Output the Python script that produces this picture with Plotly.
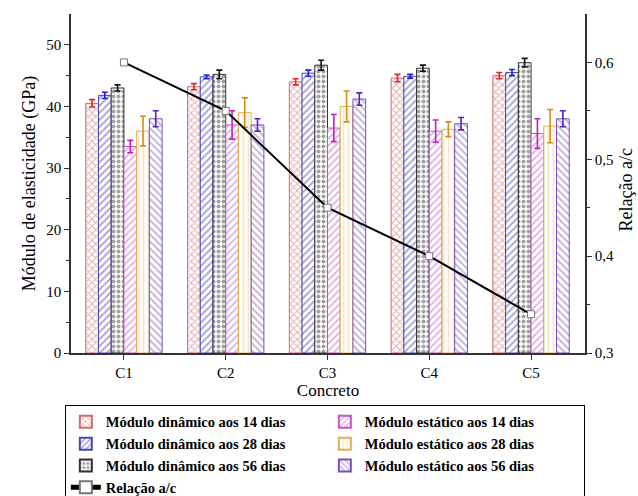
import plotly.graph_objects as go

categorias = ["C1", "C2", "C3", "C4", "C5"]

series_nomes = [
    "Módulo dinâmico aos 14 dias",
    "Módulo dinâmico aos 28 dias",
    "Módulo dinâmico aos 56 dias",
    "Módulo estático aos 14 dias",
    "Módulo estático aos 28 dias",
    "Módulo estático aos 56 dias",
]
din14 = [40.5, 43.2, 44.0, 44.6, 45.0]
din28 = [41.8, 44.8, 45.4, 44.9, 45.5]
din56 = [43.0, 45.2, 46.7, 46.2, 47.1]
est14 = [33.5, 37.0, 36.5, 36.0, 35.6]
est28 = [36.0, 39.0, 40.0, 36.3, 36.8]
est56 = [38.0, 37.0, 41.2, 37.2, 38.0]
err_din14 = [0.6, 0.5, 0.5, 0.6, 0.5]
err_din28 = [0.5, 0.3, 0.5, 0.3, 0.5]
err_din56 = [0.5, 0.7, 0.8, 0.5, 0.7]
err_est14 = [1.0, 2.3, 2.2, 1.8, 2.4]
err_est28 = [2.4, 2.4, 2.5, 1.2, 2.7]
err_est56 = [1.3, 1.0, 1.0, 1.0, 1.3]
relacao_ac = [0.60, 0.55, 0.45, 0.40, 0.34]

valores = [din14, din28, din56, est14, est28, est56]
erros = [err_din14, err_din28, err_din56, err_est14, err_est28, err_est56]
cores_borda = ["#d66a6a", "#4a4aa8", "#333333", "#c455c4", "#e0b050", "#7a50b8"]
cores_padrao = ["#d07070", "#5050b0", "#444444", "#c860c8", "#ecd090", "#8060c0"]
cores_erro = ["#e02828", "#2020d0", "#111111", "#c020c0", "#d09020", "#5a20c0"]
padroes = ["x", "/", ".", "/", "|", "\\"]
solidez = [0.4, 0.4, 0.5, 0.35, 0.35, 0.35]
ranks = [1, 3, 5, 2, 4, 6]

FONT = "Liberation Serif"

fig = go.Figure()
for nome, v, e, cb, cp, ce, pad, sol, rk in zip(series_nomes, valores, erros, cores_borda,
                                                cores_padrao, cores_erro, padroes, solidez, ranks):
    fig.add_trace(go.Bar(
        x=categorias, y=v, name=nome, legendrank=rk,
        marker=dict(color="white", line=dict(color=cb, width=1),
                    pattern=dict(shape=pad, fgcolor=cp, size=5, solidity=sol,
                                 fillmode="overlay")),
        error_y=dict(type="data", array=e, color=ce, thickness=1.6, width=3),
    ))

fig.add_trace(go.Scatter(
    x=categorias, y=relacao_ac, name="Relação a/c", yaxis="y2", legendrank=7,
    mode="lines+markers",
    line=dict(color="black", width=2),
    marker=dict(symbol="square", size=7, color="white", line=dict(color="#777777", width=1)),
))

fig.update_layout(
    width=638, height=496,
    margin=dict(l=71, r=53, t=14, b=143, autoexpand=False),
    paper_bgcolor="white", plot_bgcolor="white",
    font=dict(family=FONT, color="black", size=15),
    barmode="group", bargap=0.25, bargroupgap=0,
    showlegend=True,
    xaxis=dict(
        range=[-0.52, 4.53], showline=True, linecolor="#333", linewidth=1.5,
        ticks="outside", ticklen=5, tickcolor="#333",
        minor=dict(ticks="outside", ticklen=3, tickcolor="#333", dtick=1, tick0=0.5),
        title=dict(text="Concreto", font=dict(size=17), standoff=0),
        tickfont=dict(size=15),
    ),
    xaxis2=dict(
        overlaying="x", side="top", matches="x", anchor="y",
        showline=True, linecolor="#333", linewidth=1.5,
        ticks="inside", ticklen=5, tickcolor="#333", showticklabels=False,
        minor=dict(ticks="inside", ticklen=3, tickcolor="#333"),
        showgrid=False, tickvals=[0, 1, 2, 3, 4],
    ),
    yaxis=dict(
        range=[0, 55], showline=True, linecolor="#333", linewidth=1.5,
        ticks="outside", ticklen=5, tickcolor="#333", showgrid=False, zeroline=False,
        tickvals=[0, 10, 20, 30, 40, 50],
        minor=dict(ticks="outside", ticklen=3, tickcolor="#333", tickvals=[5, 15, 25, 35, 45]),
        title=dict(text="Módulo de elasticidade (GPa)", font=dict(size=18), standoff=6),
        tickfont=dict(size=15),
    ),
    yaxis2=dict(
        range=[0.3, 0.65], overlaying="y", side="right", showline=True,
        linecolor="#333", linewidth=1.5, ticks="outside", ticklen=5, tickcolor="#333",
        showgrid=False, zeroline=False, tickvals=[0.3, 0.4, 0.5, 0.6],
        ticktext=["0,3", "0,4", "0,5", "0,6"],
        minor=dict(ticks="outside", ticklen=3, tickcolor="#333", tickvals=[0.35, 0.45, 0.55]),
        tickfont=dict(size=15),
    ),
    legend=dict(
        orientation="h", x=-0.012, y=-0.153, xanchor="left", yanchor="top",
        entrywidth=214, entrywidthmode="pixels",
        bordercolor="black", borderwidth=1, bgcolor="white",
        font=dict(family=FONT, size=14.5, color="black", weight="bold"),
        tracegroupgap=0, itemsizing="constant",
    ),
    annotations=[dict(
        text="Relação a/c", xref="paper", yref="paper", x=1.08, y=0.48,
        textangle=-90, showarrow=False, font=dict(size=18, family=FONT),
        xanchor="center", yanchor="middle",
    )],
)

fig.write_html("out.html")
